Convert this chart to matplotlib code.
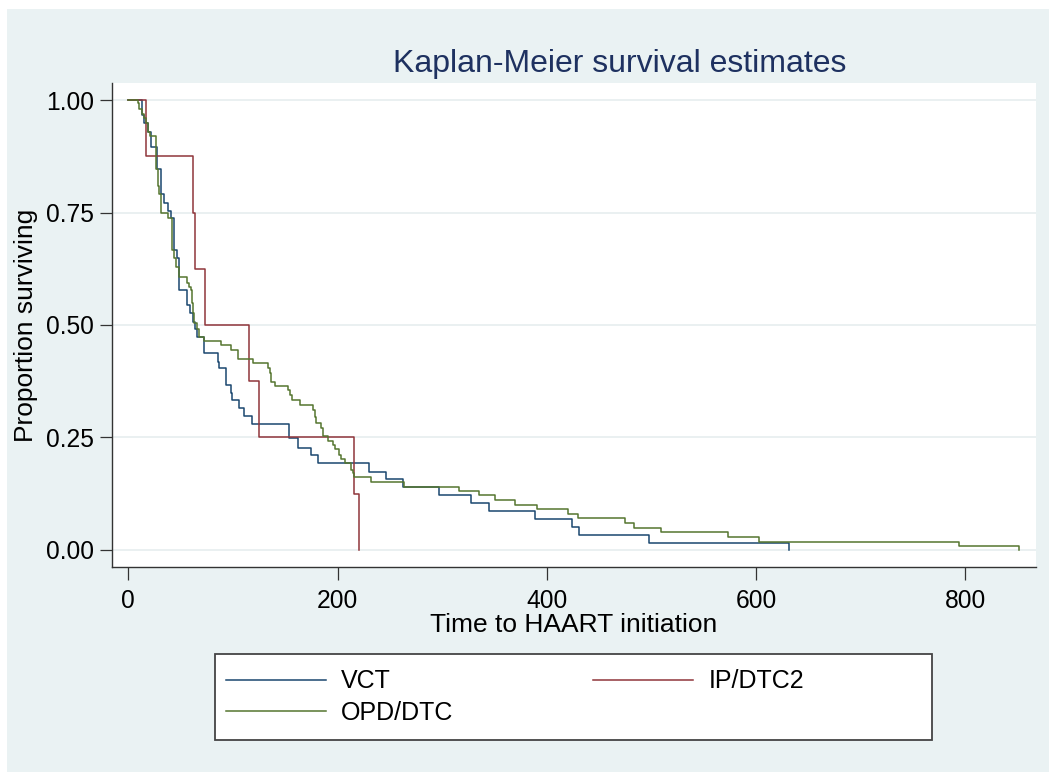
import matplotlib
matplotlib.use("Agg")
import matplotlib.pyplot as plt
from matplotlib.patches import Rectangle
from matplotlib.lines import Line2D

plt.rcParams['font.family'] = ['Liberation Sans', 'DejaVu Sans']

# Kaplan-Meier step values (time, survival after the drop)
vct_t = [0, 13.4, 15.3, 19.1, 21.7, 27.1, 31.3, 34.4, 37.6, 40.8, 44.0, 46.2, 48.2, 48.8,
         56.4, 59.0, 61.5, 63.8, 65.4, 72.7, 86.1, 87.0, 93.4, 98.2, 99.4, 106.1, 110.6,
         118.6, 153.9, 162.6, 175.0, 181.7, 230.4, 246.1, 262.6, 297.4, 327.9, 344.5,
         389.1, 423.9, 430.9, 497.5, 632.0]
vct_s = [1.0, 0.967, 0.950, 0.930, 0.895, 0.846, 0.791, 0.772, 0.754, 0.737, 0.667, 0.648,
         0.611, 0.578, 0.544, 0.526, 0.507, 0.490, 0.473, 0.4385, 0.4185, 0.4037, 0.3667,
         0.348, 0.333, 0.315, 0.298, 0.280, 0.248, 0.2274, 0.211, 0.1926, 0.174, 0.157,
         0.139, 0.1215, 0.1037, 0.0859, 0.068, 0.0519, 0.0333, 0.0163, 0.0]

ip_t = [0, 17.0, 61.5, 63.4, 73.0, 115.0, 125.0, 216.0, 221.0]
ip_s = [1.0, 0.875, 0.75, 0.625, 0.5, 0.375, 0.25, 0.125, 0.0]

opd_t = [0, 9.0, 10.6, 12.8, 15.3, 16.6, 18.5, 20.7, 26.5, 28.5, 29.5, 31.3, 38.3, 41.4,
         42.1, 43.7, 46.0, 48.2, 56.4, 58.4, 59.6, 60.9, 62.2, 63.1, 65.4, 67.6, 72.7,
         88.6, 97.9, 104.6, 105.2, 119.5, 133.9, 135.5, 136.1, 140.2, 153.0, 154.6, 156.2,
         164.1, 176.9, 178.5, 179.1, 184.2, 185.8, 191.2, 195.4, 197.6, 201.8, 203.1,
         207.2, 212.6, 214.5, 215.8, 231.7, 264.0, 316.5, 335.6, 350.9, 370.0, 390.7,
         420.0, 429.6, 475.2, 483.8, 509.0, 573.0, 603.0, 793.9, 851.2]
opd_s = [1.0, 0.993, 0.981, 0.970, 0.959, 0.948, 0.930, 0.919, 0.846, 0.810, 0.791, 0.750,
         0.737, 0.704, 0.667, 0.648, 0.630, 0.607, 0.594, 0.585, 0.578, 0.548, 0.526, 0.504,
         0.490, 0.474, 0.4644, 0.4548, 0.4444, 0.434, 0.4237, 0.4148, 0.4037, 0.3926, 0.374,
         0.3644, 0.3556, 0.3444, 0.3333, 0.3222, 0.3111, 0.2963, 0.283, 0.2704, 0.2533,
         0.243, 0.2333, 0.2237, 0.2111, 0.2015, 0.1926, 0.1778, 0.1704, 0.1615, 0.1507,
         0.1407, 0.1311, 0.1215, 0.1111, 0.100, 0.0904, 0.080, 0.0704, 0.0593, 0.0496,
         0.0393, 0.0289, 0.0185, 0.0089, 0.0]

labels = ['VCT', 'IP/DTC2', 'OPD/DTC']
colors = ['#1a476f', '#90353b', '#55752f']
xticks = [0, 200, 400, 600, 800]
yticks = [0.0, 0.25, 0.5, 0.75, 1.0]

W, H = 1049, 772
fig = plt.figure(figsize=(W / 100, H / 100), dpi=100, facecolor='white')
# stata-like graph region, behind everything
fig.patches.append(Rectangle((7 / W, 0), (W - 7) / W, (H - 9) / H, transform=fig.transFigure,
                             facecolor='#eaf2f3', edgecolor='none', zorder=-10))
# legend box
fig.patches.append(Rectangle((215 / W, 1 - 740 / H), (932 - 215) / W, 86 / H,
                             transform=fig.transFigure, facecolor='white',
                             edgecolor='#444444', lw=1.3, zorder=-5))

ax = fig.add_axes([112 / W, 1 - 567 / H, (1036 - 112) / W, (567 - 83) / H])
ax.set_facecolor('white')

for t, s, c in zip([vct_t, ip_t, opd_t], [vct_s, ip_s, opd_s], colors):
    ax.step(t, s, where='post', color=c, lw=1.1)

ax.set_xlim(-15.6, 867.8)
ax.set_ylim(-0.0378, 1.0378)
ax.set_xticks(xticks)
ax.set_yticks(yticks)
ax.set_yticklabels(['%.2f' % v for v in yticks])
ax.tick_params(axis='both', labelsize=17.7, length=9, width=0.9, color='#333333')
ax.tick_params(axis='y', pad=4)
ax.tick_params(axis='x', pad=7)
ax.grid(axis='y', color='#e6eeef', lw=1.2)
ax.set_axisbelow(True)
for side in ['top', 'right']:
    ax.spines[side].set_visible(False)
for side in ['left', 'bottom']:
    ax.spines[side].set_color('#333333')
    ax.spines[side].set_linewidth(1.0)

ax.set_xlabel('Time to HAART initiation', fontsize=19, labelpad=0)
ax.set_ylabel('Proportion surviving', fontsize=19, labelpad=6)
# title is centred on the (cropped) graph region, not the plot region
fig.text(620 / W, 1 - 72 / H, 'Kaplan-Meier survival estimates', fontsize=23,
         color='#1e3160', ha='center', va='baseline')

handles = [Line2D([], [], color=colors[0], lw=1.1),
           Line2D([], [], color=colors[2], lw=1.1),
           Line2D([], [], color=colors[1], lw=1.1)]
leg = fig.legend(handles, [labels[0], labels[2], labels[1]], ncol=2, loc='center left',
                 bbox_to_anchor=(226 / W, 1 - 697 / H), borderaxespad=0, borderpad=0,
                 fontsize=18, frameon=False, handlelength=4.0, handletextpad=0.6,
                 labelspacing=0.3, columnspacing=5.6)

fig.savefig('out.png', dpi=100, facecolor=fig.get_facecolor())
